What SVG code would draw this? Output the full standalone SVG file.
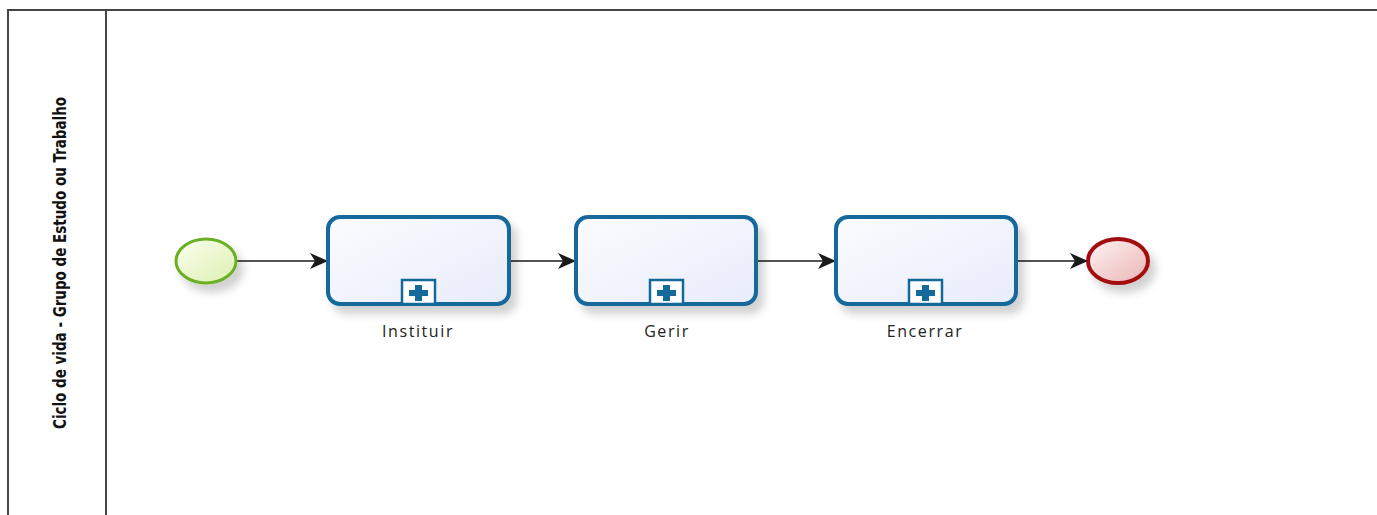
<svg xmlns="http://www.w3.org/2000/svg" width="1377" height="515" viewBox="0 0 1377 515">
<style>
.pool{fill:#fff;stroke:#454545;stroke-width:2}
.task{fill:url(#tg);stroke:#13699a;stroke-width:4}
.mk{fill:#fff;stroke:#13699a;stroke-width:2.5}
.plus{fill:#13699a}
.flow{fill:none;stroke:#1a1a1a;stroke-width:1.6}
.lbl{font-family:"Open Sans","DejaVu Sans",sans-serif;font-size:16px;fill:#222;letter-spacing:1.6px}
.lane{font-family:"Liberation Sans Narrow","DejaVu Sans Condensed","Liberation Sans",sans-serif;font-weight:bold;font-size:17px;fill:#111}
</style>
<defs>
<linearGradient id="tg" x1="0" y1="0" x2="1" y2="1"><stop offset="0" stop-color="#fbfcff"/><stop offset="1" stop-color="#e8ecfa"/></linearGradient>
<linearGradient id="sg" x1="0" y1="0" x2="1" y2="1"><stop offset="0" stop-color="#fbfff0"/><stop offset="1" stop-color="#dcf0b0"/></linearGradient>
<linearGradient id="eg" x1="0" y1="0" x2="1" y2="1"><stop offset="0" stop-color="#fff4f4"/><stop offset="1" stop-color="#eab4b4"/></linearGradient>
<filter id="sh" x="-20%" y="-20%" width="150%" height="160%"><feDropShadow dx="6" dy="8" stdDeviation="4" flood-color="#000" flood-opacity="0.18"/></filter>
<marker id="ar" viewBox="0 0 18 16" refX="17" refY="8" markerWidth="18" markerHeight="16" markerUnits="userSpaceOnUse" orient="auto"><path d="M0,0 L18,8 L0,16 L5,8 Z" fill="#1a1a1a"/></marker>
</defs>
<g id="pool">
<rect class="pool" x="8" y="10" width="1380" height="520"/>
<line x1="106" y1="10" x2="106" y2="515" stroke="#454545" stroke-width="2"/>
<text class="lane" transform="translate(66,263) rotate(-90)" text-anchor="middle" textLength="332" lengthAdjust="spacingAndGlyphs">Ciclo de vida - Grupo de Estudo ou Trabalho</text>
</g>
<g id="connectors">
<line class="flow" x1="237" y1="261" x2="327" y2="261" marker-end="url(#ar)"/>
<line class="flow" x1="510" y1="261" x2="575" y2="261" marker-end="url(#ar)"/>
<line class="flow" x1="757" y1="261" x2="835" y2="261" marker-end="url(#ar)"/>
<line class="flow" x1="1017" y1="261" x2="1087" y2="261" marker-end="url(#ar)"/>
</g>
<g id="start">
<ellipse cx="206" cy="261" rx="30" ry="22" fill="url(#sg)" stroke="#6ab023" stroke-width="3" filter="url(#sh)"/>
</g>
<g id="instituir">
<rect class="task" x="328" y="217" width="181" height="87" rx="12" filter="url(#sh)"/>
<rect class="mk" x="402" y="280" width="33" height="24"/>
<path class="plus" d="M415,285h7v5h6v6h-6v5h-7v-5h-6v-6h6z"/>
<text class="lbl" x="418" y="337" text-anchor="middle">Instituir</text>
</g>
<g id="gerir">
<rect class="task" x="576" y="217" width="180" height="87" rx="12" filter="url(#sh)"/>
<rect class="mk" x="650" y="280" width="33" height="24"/>
<path class="plus" d="M663,285h7v5h6v6h-6v5h-7v-5h-6v-6h6z"/>
<text class="lbl" x="667" y="337" text-anchor="middle">Gerir</text>
</g>
<g id="encerrar">
<rect class="task" x="836" y="217" width="180" height="87" rx="12" filter="url(#sh)"/>
<rect class="mk" x="909" y="280" width="33" height="24"/>
<path class="plus" d="M922,285h7v5h6v6h-6v5h-7v-5h-6v-6h6z"/>
<text class="lbl" x="925" y="337" text-anchor="middle">Encerrar</text>
</g>
<g id="end">
<ellipse cx="1118" cy="261" rx="30" ry="22" fill="url(#eg)" stroke="#a20f0f" stroke-width="4" filter="url(#sh)"/>
</g>
</svg>
